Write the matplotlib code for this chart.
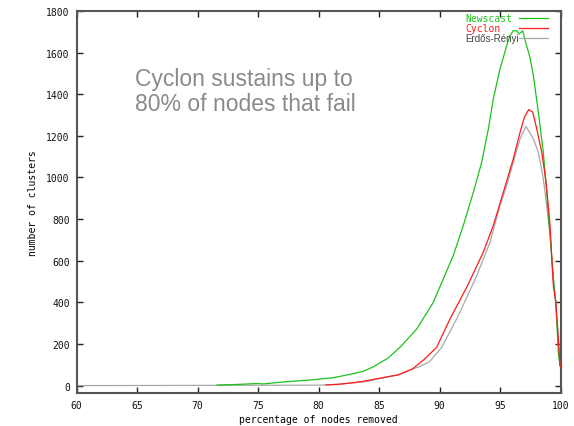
import matplotlib
matplotlib.use("Agg")
import matplotlib.pyplot as plt

# Data
newscast_x = [71.6, 73, 75, 75.4, 77.2, 79.5, 81.2, 82.6, 83.7, 84.5, 85.7, 86.72, 88.1,
              89.47, 90.3, 91.12, 91.95, 92.78, 93.47, 94.02, 94.43, 94.98, 95.54, 95.8,
              96.08, 96.36, 96.58, 96.86, 97.15, 97.46, 97.74, 98.15, 98.56, 98.84, 99.12,
              99.39, 99.59, 99.8, 99.94, 100]
newscast_y = [3, 5, 10, 8, 18, 28, 38, 54, 69, 90, 131, 184, 272,
              400, 513, 625, 769, 929, 1073, 1233, 1377, 1521, 1633, 1681,
              1705, 1705, 1690, 1705, 1640, 1577, 1490, 1315, 1123, 931, 722,
              514, 403, 163, 97, 90]

cyclon_x = [80.6, 81.6, 82.7, 83.6, 85.1, 86.6, 87.75, 88.7, 89.75, 90.85, 92.3, 93.6,
            94.43, 95.26, 96.08, 96.64, 97.0, 97.35, 97.69, 98.02, 98.43, 98.79, 99.12,
            99.39, 99.59, 99.8, 99.94, 100]
cyclon_y = [3, 6, 13, 20, 36, 52, 80, 125, 184, 320, 480, 641,
            769, 929, 1089, 1217, 1290, 1326, 1314, 1234, 1122, 978, 770,
            481, 403, 226, 97, 90]

erdos_x = [60, 80, 82, 84, 85.1, 86.6, 87.75, 88.3, 89.15, 90.17, 91.54, 93.06, 94.16,
           94.98, 95.54, 96.08, 96.64, 97.13, 97.74, 98.15, 98.56, 98.84, 99.12, 99.39,
           99.59, 99.8, 99.94, 100]
erdos_y = [0, 2, 8, 20, 35, 52, 80, 90, 114, 184, 336, 528, 689,
           865, 961, 1073, 1185, 1246, 1186, 1122, 994, 866, 722, 514,
           403, 240, 97, 90]

series_names = ["Newscast", "Cyclon", "Erdős-Rényi"]
x_ticks = [60, 65, 70, 75, 80, 85, 90, 95, 100]
y_ticks = [0, 200, 400, 600, 800, 1000, 1200, 1400, 1600, 1800]

GREEN = "#1cc21c"
RED = "#ff1a1a"
GRAY = "#a8a8a8"
FRAME = "#555555"
mono = "DejaVu Sans Mono"

fig = plt.figure(figsize=(5.74, 4.27), dpi=100)
ax = fig.add_axes([76.7 / 574, 1 - 394.3 / 427, (560.7 - 76.7) / 574, (394.3 - 12) / 427])

ax.plot(erdos_x, erdos_y, color=GRAY, lw=0.9, zorder=2)
ax.plot(newscast_x, newscast_y, color=GREEN, lw=0.9, zorder=3)
ax.plot(cyclon_x, cyclon_y, color=RED, lw=0.9, zorder=4)

ax.set_xlim(60, 100)
ax.set_ylim(-37, 1800)
ax.set_xticks(x_ticks)
ax.set_yticks(y_ticks)
ax.set_xticklabels([str(v) for v in x_ticks], fontfamily=mono, fontsize=7)
ax.set_yticklabels([str(v) for v in y_ticks], fontfamily=mono, fontsize=7)
ax.tick_params(direction="in", length=4, width=1, color="#222222",
               top=True, right=True, pad=5, labelcolor="#111111")
for s in ax.spines.values():
    s.set_color(FRAME)
    s.set_linewidth(1.5)

ax.set_xlabel("percentage of nodes removed", fontfamily=mono, fontsize=7, labelpad=3)
ax.set_ylabel("number of clusters", fontfamily=mono, fontsize=7, labelpad=6)

# legend drawn manually (gnuplot style, top right)
leg_items = [(series_names[0], GREEN, mono, 19), (series_names[1], RED, mono, 29),
             (series_names[2], "#444444", "Liberation Sans", 39)]
line_cols = [GREEN, RED, GRAY]
for (name, col, fam, ypx), lc in zip(leg_items, line_cols):
    yf = 1 - ypx / 427
    fig.text(465 / 574, yf, name, color=col, fontfamily=fam, fontsize=7,
             ha="left", va="center")
    fig.add_artist(plt.Line2D([519 / 574, 548 / 574], [yf, yf], color=lc, lw=0.9))

# annotation
fig.text(135 / 574, 1 - 68 / 427, "Cyclon sustains up to\n80% of nodes that fail",
         color="#8a8a8a", fontfamily="Liberation Sans", fontsize=16.5,
         ha="left", va="top", linespacing=1.12)

fig.savefig("out.png", dpi=100)
